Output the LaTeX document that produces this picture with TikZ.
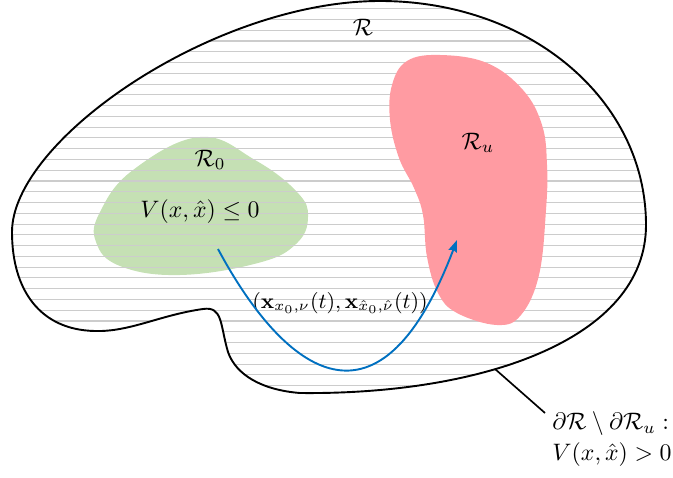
\documentclass[tikz,border=0pt]{standalone}
\usepackage{amsmath,amssymb}
\usetikzlibrary{arrows.meta}
\definecolor{hatchgray}{RGB}{204,204,204}
\definecolor{regreen}{RGB}{197,224,180}
\definecolor{repink}{RGB}{255,155,162}
\definecolor{trajblue}{RGB}{0,112,192}
\tikzset{
  outline/.style={draw=black,line width=0.8pt},
  hatch/.style={draw=hatchgray,line width=0.45pt},
  traj/.style={draw=trajblue,line width=0.8pt,-{Stealth[inset=0.6pt,length=5pt,width=3.6pt]}},
  pointer/.style={draw=black,line width=0.7pt},
  lab/.style={inner sep=0pt}
}
\begin{document}
\begin{tikzpicture}[x=0.42pt,y=-0.42pt]
\useasboundingbox (0,0) rectangle (673,477);
\def\outerpath{(12,232) .. controls (12,140) and (214,1) .. (380,1)
  .. controls (530,1) and (646,100) .. (646,225)
  .. controls (646,340) and (480,395) .. (300,393)
  .. controls (262,390) and (236,375) .. (228,352)
  .. controls (220,325) and (223,306) .. (203,309)
  .. controls (160,315) and (130,332) .. (95,331)
  .. controls (40,330) and (12,290) .. (12,232) -- cycle}
% green region R0
\fill[regreen] plot[smooth cycle,tension=0.7] coordinates {
 (200,137) (255,160) (297,192) (308,217) (296,244) (258,263) (180,275)
 (120,266) (96,242) (100,212) (133,170)};
% hatching
\begin{scope}
\clip \outerpath;
\foreach \k in {0,...,37} {
  \draw[hatch] (0,{8.7+10.77*\k}) -- (673,{8.7+10.77*\k});
}
\end{scope}
% pink region Ru
\fill[repink] plot[smooth cycle,tension=0.65] coordinates {
 (440,55) (487,63) (523,90) (542,125) (547,165) (546,210) (539,275)
 (521,315) (497,325) (457,313) (438,293) (427,257) (423,215) (414,188)
 (399,158) (390,120) (392,85) (407,61)};
% outer boundary
\draw[outline] \outerpath;
% labels
\node[lab] (R) at (363,27) {$\mathcal{R}$};
\node[lab] (R0) at (210,160) {$\mathcal{R}_0$};
\node[lab] (V0) at (200,212) {$V(x,\hat{x})\leq 0$};
\node[lab] (Ru) at (478,143) {$\mathcal{R}_u$};
\node[lab,font=\small] (traj) at (340,303) {$(\mathbf{x}_{x_0,\nu}(t),\mathbf{x}_{\hat{x}_0,\hat{\nu}}(t))$};
% trajectory
\coordinate (s) at (218,249);
\coordinate (e) at (457,240);
\draw[traj] (s) .. controls (279,363) and (376,453) .. (e);
% boundary annotation
\coordinate (bpt) at (495,369);
\node[lab,anchor=west,align=left] (bd) at (552,439) {$\partial\mathcal{R}\setminus\partial\mathcal{R}_u:$\\[1pt]$V(x,\hat{x})>0$};
\coordinate (bend) at (545,413);
\draw[pointer] (bpt) -- (bend);
\end{tikzpicture}
\end{document}
